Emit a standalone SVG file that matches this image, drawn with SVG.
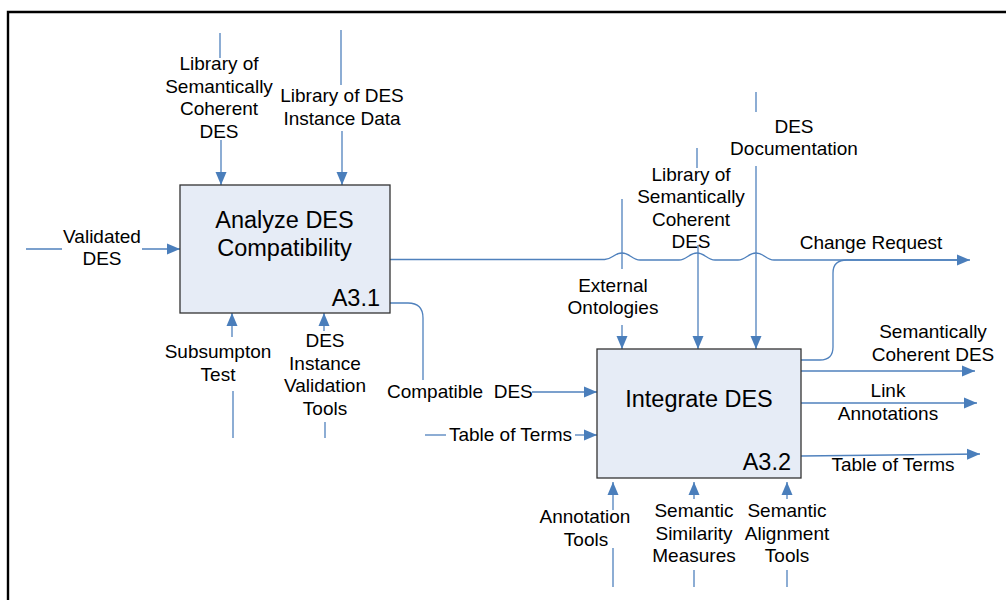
<svg xmlns="http://www.w3.org/2000/svg" width="1006" height="600" viewBox="0 0 1006 600">
<style>
.frame{stroke:#000;stroke-width:2.4;fill:none}
.box{fill:#e6ecf6;stroke:#333;stroke-width:1.3}
.c{fill:none;stroke:#4f81bd;stroke-width:1.3}
.a{marker-end:url(#ah)}
text{font-family:"Liberation Sans",Arial,sans-serif;fill:#000}
.l{font-size:19px;text-anchor:middle}
.ls{font-size:19px}
.t{font-size:23.5px;text-anchor:middle}
.id{font-size:23.5px;text-anchor:end}
</style>
<defs>
<marker id="ah" markerUnits="userSpaceOnUse" markerWidth="14" markerHeight="12" refX="13" refY="6" orient="auto">
<path d="M0,0.5 L13,6 L0,11.5 z" fill="#4a7ebb"/>
</marker>
</defs>
<rect width="1006" height="600" fill="#fff"/>
<path class="frame" d="M8,600 V12 H1006"/>

<g id="connectors">
<path class="c" d="M26,249 H62"/>
<path class="c a" d="M142,249 H180"/>
<path class="c" d="M220,33 V58"/>
<path class="c a" d="M221,140 V185"/>
<path class="c" d="M341,30 V85"/>
<path class="c a" d="M342,131 V185"/>
<path class="c" d="M233,438 V391"/>
<path class="c a" d="M232,337 V313"/>
<path class="c" d="M325,438 V422"/>
<path class="c a" d="M324,331 V313"/>
<path class="c a" d="M390,259.5 H604 C612,260 614,253 622,253 C630,253 632,260 640,260 H679 C687,260 689,253 697,253 C705,253 707,260 715,260 H738 C746,260 748,253 756,253 C764,253 766,260 774,260 H970"/>
<path class="c" d="M801,360 H820 Q833,360 833,347 V273 Q833,260 847,260 H957"/>
<path class="c" d="M390,303 H408 Q423,303 423,318 V380"/>
<path class="c a" d="M532,392 H597"/>
<path class="c" d="M425,435 H446"/>
<path class="c a" d="M575,435 H597"/>
<path class="c" d="M622,199 V269"/>
<path class="c a" d="M622,325 V349"/>
<path class="c" d="M697,148 V168"/>
<path class="c a" d="M698,245 V349"/>
<path class="c" d="M756,92 V112"/>
<path class="c a" d="M756,166 V349"/>
<path class="c a" d="M801,371 H975"/>
<path class="c a" d="M801,403 H977"/>
<path class="c a" d="M801,456 L980,454"/>
<path class="c" d="M613,587 V548"/>
<path class="c a" d="M613,510 V482"/>
<path class="c" d="M694,587 V570"/>
<path class="c a" d="M694,499 V482"/>
<path class="c" d="M787,587 V570"/>
<path class="c a" d="M787,499 V482"/>
</g>

<g id="A3.1">
<rect class="box" x="180" y="185" width="210" height="128"/>
<text class="t" x="284.5" y="228">Analyze DES</text>
<text class="t" x="284.5" y="256">Compatibility</text>
<text class="id" x="380" y="306">A3.1</text>
</g>

<g id="A3.2">
<rect class="box" x="597" y="349" width="204" height="129"/>
<text class="t" x="699" y="407">Integrate DES</text>
<text class="id" x="791" y="470">A3.2</text>
</g>

<g id="labels">
<text class="l" x="219" y="70">Library of</text>
<text class="l" x="219" y="92.5">Semantically</text>
<text class="l" x="219" y="115">Coherent</text>
<text class="l" x="219" y="137.5">DES</text>
<text class="l" x="342" y="102">Library of DES</text>
<text class="l" x="342" y="124.5">Instance Data</text>
<text class="l" x="102" y="243">Validated</text>
<text class="l" x="102" y="265">DES</text>
<text class="l" x="218" y="358">Subsumpton</text>
<text class="l" x="218" y="380.5">Test</text>
<text class="l" x="325" y="347">DES</text>
<text class="l" x="325" y="369.5">Instance</text>
<text class="l" x="325" y="392">Validation</text>
<text class="l" x="325" y="414.5">Tools</text>
<text class="ls" x="387" y="398" xml:space="preserve">Compatible  DES</text>
<text class="l" x="510.5" y="441">Table of Terms</text>
<text class="l" x="613" y="292">External</text>
<text class="l" x="613" y="313.5">Ontologies</text>
<text class="l" x="691" y="180.5">Library of</text>
<text class="l" x="691" y="203">Semantically</text>
<text class="l" x="691" y="225.5">Coherent</text>
<text class="l" x="691" y="248">DES</text>
<text class="l" x="794" y="132.5">DES</text>
<text class="l" x="794" y="155">Documentation</text>
<text class="l" x="871" y="248.5">Change Request</text>
<text class="l" x="933" y="338">Semantically</text>
<text class="l" x="933" y="361">Coherent DES</text>
<text class="l" x="888" y="397">Link</text>
<text class="l" x="888" y="419.5">Annotations</text>
<text class="l" x="893" y="471">Table of Terms</text>
<text class="l" x="585" y="523">Annotation</text>
<text class="l" x="586" y="546">Tools</text>
<text class="l" x="694" y="517">Semantic</text>
<text class="l" x="694" y="539.5">Similarity</text>
<text class="l" x="694" y="562">Measures</text>
<text class="l" x="787" y="517">Semantic</text>
<text class="l" x="787" y="539.5">Alignment</text>
<text class="l" x="787" y="562">Tools</text>
</g>
</svg>
